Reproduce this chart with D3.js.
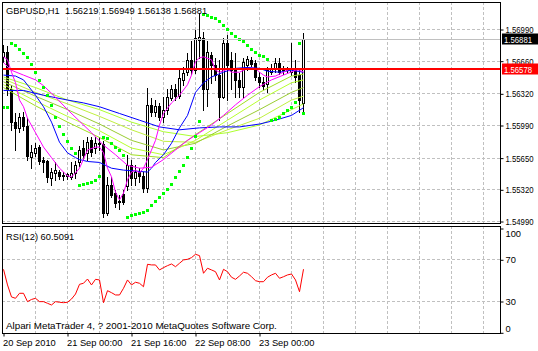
<!DOCTYPE html>
<html>
<head>
<meta charset="utf-8">
<script src="https://cdn.jsdelivr.net/npm/d3@7"></script>
<style>
body { margin: 0; background: #fff; }
text { font-family: "Liberation Sans", Arial, sans-serif; fill: #000; }
</style>
</head>
<body>
<svg id="chart"></svg>
<script>
// GBPUSD H1 bars, 20 Sep 08:00 .. 23 Sep 11:00
let opens = [1.5670,1.5675,1.5636,1.5602,1.5596,1.5607,1.5598,1.5566,1.5570,1.5576,1.5563,1.5561,1.5544,1.5549,1.5550,1.5547,1.5546,1.5545,1.5549,1.5560,
    1.5575,1.5570,1.5583,1.5575,1.5580,1.5579,1.5507,1.5537,1.5528,1.5520,1.5527,1.5535,1.5557,1.5544,1.5550,1.5546,1.5533,1.5620,1.5613,1.5619,
    1.5607,1.5615,1.5627,1.5636,1.5629,1.5646,1.5654,1.5667,1.5656,1.5688,1.5690,1.5636,1.5672,1.5662,1.5651,1.5628,1.5684,1.5667,1.5658,1.5646,
    1.5639,1.5662,1.5667,1.5664,1.5649,1.5644,1.5642,1.5654,1.5658,1.5664,1.5656,1.5658,1.5654,1.5658,1.5651,1.56219];
let highs = [1.5682,1.5681,1.5641,1.5612,1.5612,1.5613,1.5606,1.5578,1.5580,1.5578,1.5566,1.5563,1.5554,1.5560,1.5552,1.5550,1.5549,1.5560,1.5561,1.5577,
    1.5583,1.5586,1.5587,1.5587,1.5586,1.5582,1.5545,1.5545,1.5531,1.5526,1.5531,1.5568,1.5563,1.5557,1.5554,1.5550,1.5638,1.5627,1.5625,1.5622,
    1.5628,1.5636,1.5641,1.5642,1.5656,1.5659,1.5674,1.5686,1.5698,1.5716,1.5696,1.5686,1.5675,1.5669,1.5667,1.5690,1.5693,1.5675,1.5674,1.5653,
    1.5669,1.5671,1.5670,1.5667,1.5654,1.5649,1.5659,1.5663,1.5669,1.5669,1.5660,1.5659,1.5684,1.5667,1.5656,1.56949];
let lows = [1.5665,1.5630,1.5594,1.5573,1.5592,1.5594,1.5563,1.5554,1.5567,1.5558,1.5550,1.5540,1.5537,1.5542,1.5543,1.5542,1.5543,1.5543,1.5544,1.5556,
    1.5563,1.5563,1.5567,1.5570,1.5573,1.5503,1.5505,1.5524,1.5514,1.5511,1.5517,1.5531,1.5537,1.5537,1.5540,1.5529,1.5529,1.5608,1.5608,1.5604,
    1.5602,1.5610,1.5625,1.5625,1.5627,1.5641,1.5651,1.5652,1.5653,1.5669,1.5615,1.5619,1.5643,1.5646,1.5604,1.5627,1.5625,1.5636,1.5628,1.5628,
    1.5628,1.5656,1.5660,1.5646,1.5639,1.5636,1.5633,1.5652,1.5654,1.5652,1.5652,1.5653,1.5651,1.5644,1.5613,1.56138];
let closes = [1.5675,1.5636,1.5602,1.5596,1.5607,1.5598,1.5567,1.5571,1.5575,1.5561,1.5560,1.5545,1.5550,1.5552,1.5546,1.5546,1.5548,1.5549,1.5557,1.5573,
    1.5568,1.5581,1.5571,1.5580,1.5579,1.5507,1.5537,1.5526,1.5518,1.5519,1.5519,1.5557,1.5544,1.5550,1.5546,1.5533,1.5620,1.5613,1.5619,1.5607,
    1.5615,1.5628,1.5636,1.5629,1.5648,1.5653,1.5667,1.5656,1.5690,1.5691,1.5636,1.5675,1.5662,1.5651,1.5628,1.5684,1.5662,1.5656,1.5646,1.5639,
    1.5665,1.5668,1.5663,1.5649,1.5644,1.5640,1.5656,1.5658,1.5664,1.5654,1.5658,1.5656,1.5658,1.5649,1.5625,1.56881];

// Parabolic SAR, one dot per bar
let sar = [1.5618,1.5618,1.5684,1.5682,1.5678,1.5674,1.5670,1.5663,1.5654,1.5646,1.5639,1.5630,1.5620,1.5607,1.5598,1.5590,1.5582,1.5575,1.5570,
    1.5537,1.5538,1.5539,1.5540,1.5542,1.5546,1.5586,1.5585,1.5580,1.5576,1.5573,1.5568,
    1.5503,1.5505,1.5506,1.5507,1.5508,1.5510,1.5516,1.5520,1.5524,1.5528,1.5532,1.5538,1.5545,1.5551,1.5557,1.5566,1.5575,1.5588,1.5603,
    1.5715,1.5714,1.5712,1.5710,1.5707,1.5703,1.5699,1.5695,1.5692,1.5689,1.5686,1.5682,1.5678,1.5675,1.5672,1.5671,1.5668,
    1.5604,1.5605,1.5607,1.5612,1.5615,1.5618,1.5623,1.5684,1.5612];

// moving averages as [bar, price]
let maMagentaFast = [[0,1.5670],[1,1.5667],[2,1.5654],[3,1.5643],[4,1.5625],[5,1.5618],[6,1.5606],[8,1.5591],[10,1.5576],[12,1.5565],[14,1.5554],
    [16,1.5546],[17,1.5545],[18,1.5549],[19,1.5554],[21,1.5573],[23,1.5576],[24,1.5576],[25,1.5570],[26,1.5554],[27,1.5545],[28,1.5529],[29,1.5521],
    [30,1.5528],[31,1.5542],[32,1.5550],[33,1.5552],[34,1.5549],[35,1.5554],[36,1.5563],[37,1.5573],[38,1.5583],[39,1.5599],[40,1.5611],[42,1.5622],
    [44,1.5630],[46,1.5641],[47,1.5651],[48,1.5665],[49,1.5669],[50,1.5670],[52,1.5667],[53,1.5656],[54,1.5654],[56,1.5657],[57,1.5654],[59,1.5654],
    [61,1.5658],[63,1.5658],[64,1.5654],[65,1.5651],[66,1.5649],[68,1.5650],[70,1.5654],[72,1.5658],[73,1.5657],[74,1.5656],[75,1.5654]];
let maMagentaSlow = [[0,1.5664],[2,1.5656],[5,1.5651],[8,1.5646],[10,1.5640],[13,1.5628],[16,1.5615],[19,1.5603],[22,1.5591],[25,1.5578],[28,1.5568],
    [31,1.5557],[34,1.5554],[37,1.5555],[40,1.5563],[43,1.5573],[46,1.5583],[49,1.5591],[52,1.5599],[55,1.5609],[58,1.5620],[61,1.5630],[64,1.5639],
    [67,1.5646],[70,1.5651],[73,1.5656],[75,1.5658]];
let maBlueFast = [[0,1.5651],[3,1.5650],[5,1.5646],[8,1.5630],[10,1.5618],[12,1.5602],[14,1.5581],[16,1.5570],[18,1.5565],[19,1.5563],[21,1.5561],
    [24,1.5560],[27,1.5554],[30,1.5552],[33,1.5551],[36,1.5550],[37,1.5554],[38,1.5560],[40,1.5568],[42,1.5580],[44,1.5596],[46,1.5609],[48,1.5633],
    [50,1.5643],[52,1.5649],[55,1.5654],[58,1.5658],[61,1.5659],[64,1.5658],[66,1.5655],[69,1.5654],[72,1.5656],[75,1.5654]];
let maBlueSlow = [[0,1.5635],[5,1.5635],[10,1.5630],[16,1.5625],[20,1.5622],[24,1.5618],[29,1.5611],[34,1.5604],[39,1.5597],[44,1.5594],[49,1.5596],
    [54,1.5597],[59,1.5597],[64,1.5600],[68,1.5604],[72,1.5609],[75,1.5617]];
let ribbonBars = [0,8,16,24,32,40,48,56,64,72,75];
let ribbon = [
    [1.5649,1.5638,1.5625,1.5615,1.5602,1.5592,1.5587,1.5591,1.5599,1.5615,1.5621],
    [1.5647,1.5633,1.5621,1.5608,1.5594,1.5582,1.5581,1.5594,1.5606,1.5625,1.5629],
    [1.5644,1.5629,1.5615,1.5600,1.5583,1.5573,1.5580,1.5598,1.5615,1.5633,1.5638],
    [1.5641,1.5624,1.5608,1.5593,1.5575,1.5568,1.5583,1.5604,1.5625,1.5643,1.5646],
    [1.5638,1.5619,1.5602,1.5586,1.5568,1.5565,1.5589,1.5611,1.5633,1.5650,1.5652]
];
let ribbonColors = ["#adff2f", "#c0f040", "#9acd32", "#b8ff30", "#a0e020"];

// RSI(12)
let rsi = [60.4,45.4,33.9,32.6,37.4,37.4,29.4,31.5,32.6,29.4,29.4,27.8,26.2,29.4,28.8,28.4,28.8,31.9,36.7,46.0,
    47.0,51.1,45.4,50.8,50.2,28.4,39.9,38.0,35.8,35.8,42.2,50.2,45.4,48.0,47.0,43.7,65.2,64.6,64.6,59.8,
    62.0,63.9,65.5,62.9,66.2,69.4,70.0,71.6,74.8,73.5,56.6,61.4,59.8,58.1,50.2,60.4,58.1,52.8,50.8,54.0,
    57.6,56.6,53.3,49.5,48.5,48.5,52.8,55.0,56.6,51.8,53.3,55.0,55.9,50.2,38.9,60.5091];

let priceTicks = [1.56990, 1.56660, 1.56320, 1.55990, 1.55650, 1.55320, 1.54990];
let rsiTicks = [100, 70, 30, 0];
let rsiLevels = [70, 30];
let timeTicks = [0, 16, 32, 48, 64];
let timeLabels = ["20 Sep 2010", "21 Sep 00:00", "21 Sep 16:00", "22 Sep 08:00", "23 Sep 00:00"];
let bidPrice = 1.56578;
let lastPrice = 1.56881;

let width = 538;
let height = 351;
let panel = { left: 2, right: 500, top: 2, bottom: 223 };
let sub = { top: 226, bottom: 333 };

let svg = d3.select("#chart").attr("width", width).attr("height", height);
svg.append("rect").attr("width", width).attr("height", height).attr("fill", "#fff");

let x = d3.scaleLinear().domain([0, 75]).range([3, 303]);
let y = d3.scaleLinear().domain([1.54990, 1.56990]).range([221, 29]);
let yRsi = d3.scaleLinear().domain([0, 100]).range([332.3, 228]);

svg.append("clipPath").attr("id", "mainClip").append("rect")
    .attr("x", panel.left).attr("y", panel.top)
    .attr("width", panel.right - panel.left).attr("height", panel.bottom - panel.top);
svg.append("clipPath").attr("id", "subClip").append("rect")
    .attr("x", panel.left).attr("y", sub.top)
    .attr("width", panel.right - panel.left).attr("height", sub.bottom - sub.top);

// grid
let gridBars = d3.range(8, 121, 8);
let grid = svg.append("g").attr("stroke", "#c0c0c0").attr("stroke-dasharray", "3,2")
    .attr("shape-rendering", "crispEdges");
gridBars.forEach(b => {
    grid.append("line").attr("x1", Math.round(x(b)) + 0.5).attr("x2", Math.round(x(b)) + 0.5)
        .attr("y1", panel.top).attr("y2", panel.bottom);
    grid.append("line").attr("x1", Math.round(x(b)) + 0.5).attr("x2", Math.round(x(b)) + 0.5)
        .attr("y1", sub.top).attr("y2", sub.bottom);
});
priceTicks.forEach(p => {
    grid.append("line").attr("x1", panel.left).attr("x2", panel.right)
        .attr("y1", Math.round(y(p)) + 0.5).attr("y2", Math.round(y(p)) + 0.5);
});
rsiLevels.forEach(v => {
    grid.append("line").attr("x1", panel.left).attr("x2", panel.right)
        .attr("y1", Math.round(yRsi(v)) + 0.5).attr("y2", Math.round(yRsi(v)) + 0.5);
});

// candles
let main = svg.append("g").attr("clip-path", "url(#mainClip)");
let candles = main.append("g").attr("shape-rendering", "crispEdges");
closes.forEach((c, i) => {
    let cx = Math.round(x(i));
    let o = opens[i];
    candles.append("line")
        .attr("x1", cx + 0.5).attr("x2", cx + 0.5)
        .attr("y1", Math.round(y(highs[i]))).attr("y2", Math.round(y(lows[i])) + 1)
        .attr("stroke", "#000");
    let top = Math.round(y(Math.max(o, c)));
    let bot = Math.round(y(Math.min(o, c)));
    candles.append("rect")
        .attr("x", cx - 0.5).attr("y", top + 0.5)
        .attr("width", 2).attr("height", Math.max(bot - top, 0))
        .attr("fill", c >= o ? "#fff" : "#000")
        .attr("stroke", "#000");
});

// moving averages
let line = d3.line().x(d => x(d[0]) + 0.5).y(d => y(d[1]));
ribbon.forEach((vals, k) => {
    main.append("path")
        .datum(vals.map((v, j) => [ribbonBars[j], v]))
        .attr("d", line).attr("fill", "none")
        .attr("stroke", ribbonColors[k]).attr("stroke-width", 1);
});
[[maBlueSlow, "#0000ff"], [maBlueFast, "#0000ff"], [maMagentaSlow, "#ff00ff"], [maMagentaFast, "#ff00ff"]]
    .forEach(([d, col]) => {
        main.append("path").datum(d).attr("d", line).attr("fill", "none")
            .attr("stroke", col).attr("stroke-width", 1);
    });

// parabolic SAR
main.append("g").selectAll("rect").data(sar).enter().append("rect")
    .attr("x", (d, i) => Math.round(x(i)) - 1)
    .attr("y", d => Math.round(y(d)) - 1)
    .attr("width", 3).attr("height", 3)
    .attr("fill", "#00ff00")
    .attr("shape-rendering", "crispEdges");

// horizontal price lines
main.append("line").attr("x1", panel.left).attr("x2", panel.right)
    .attr("y1", Math.round(y(lastPrice)) + 0.5).attr("y2", Math.round(y(lastPrice)) + 0.5)
    .attr("stroke", "#c0c0c0").attr("shape-rendering", "crispEdges");
main.append("line").attr("x1", panel.left).attr("x2", panel.right)
    .attr("y1", Math.round(y(bidPrice))).attr("y2", Math.round(y(bidPrice)))
    .attr("stroke", "#ff0000").attr("stroke-width", 2).attr("shape-rendering", "crispEdges");

// RSI
svg.append("g").attr("clip-path", "url(#subClip)").append("path")
    .datum(rsi)
    .attr("d", d3.line().x((d, i) => x(i) + 0.5).y(d => yRsi(d)))
    .attr("fill", "none").attr("stroke", "#ff0000").attr("stroke-width", 1);

// panel borders
let frame = svg.append("g").attr("fill", "none").attr("stroke", "#000")
    .attr("shape-rendering", "crispEdges");
frame.append("rect").attr("x", panel.left + 0.5).attr("y", panel.top + 0.5)
    .attr("width", panel.right - panel.left).attr("height", panel.bottom - panel.top);
frame.append("rect").attr("x", panel.left + 0.5).attr("y", sub.top + 0.5)
    .attr("width", panel.right - panel.left).attr("height", sub.bottom - sub.top);

// axes
let fontSize = "9.3px";
let priceAxis = svg.append("g")
    .attr("transform", `translate(${panel.right + 0.5},0.5)`)
    .call(d3.axisRight(y).tickValues(priceTicks).tickFormat(d3.format(".5f")).tickSize(3).tickPadding(2));
priceAxis.select(".domain").remove();
priceAxis.selectAll("text").attr("font-size", fontSize).attr("font-family", null)
    .attr("textLength", 28).attr("lengthAdjust", "spacingAndGlyphs");

let rsiAxis = svg.append("g")
    .attr("transform", `translate(${panel.right + 0.5},0.5)`)
    .call(d3.axisRight(yRsi).tickValues(rsiTicks).tickSize(3).tickPadding(2));
rsiAxis.select(".domain").remove();
rsiAxis.selectAll("text").attr("font-size", fontSize).attr("font-family", null)
    .attr("dy", d => d === 100 ? "0.85em" : d === 0 ? "-0.15em" : "0.32em");

let timeAxis = svg.append("g")
    .attr("transform", `translate(0.5,${sub.bottom + 0.5})`)
    .call(d3.axisBottom(x).tickValues(timeTicks).tickFormat((d, i) => timeLabels[i]).tickSize(3).tickPadding(3));
timeAxis.select(".domain").remove();
timeAxis.selectAll("text").attr("font-size", fontSize).attr("font-family", null)
    .attr("text-anchor", "start").attr("dx", "-1px");

// current price tags (drawn over the axis, as in the terminal)
[[lastPrice, "#000"], [bidPrice, "#ff0000"]].forEach(([p, col]) => {
    let yy = Math.round(y(p));
    svg.append("rect").attr("x", 502).attr("y", yy - 5.5).attr("width", 36).attr("height", 11).attr("fill", col);
    svg.append("text").attr("x", 504).attr("y", yy + 3.5).text(d3.format(".5f")(p))
        .attr("font-size", fontSize).style("fill", "#fff")
        .attr("textLength", 28).attr("lengthAdjust", "spacingAndGlyphs");
});

// labels
svg.append("text").attr("x", 6).attr("y", 14).attr("font-size", fontSize)
    .text("GBPUSD,H1  1.56219 1.56949 1.56138 1.56881").attr("xml:space", "preserve");
svg.append("text").attr("x", 6).attr("y", 239.5).attr("font-size", fontSize)
    .text("RSI(12) " + rsi[rsi.length - 1].toFixed(4));
svg.append("text").attr("x", 6).attr("y", 329).attr("font-size", "9.8px")
    .text("Alpari MetaTrader 4, ? 2001-2010 MetaQuotes Software Corp.");
</script>
</body>
</html>
